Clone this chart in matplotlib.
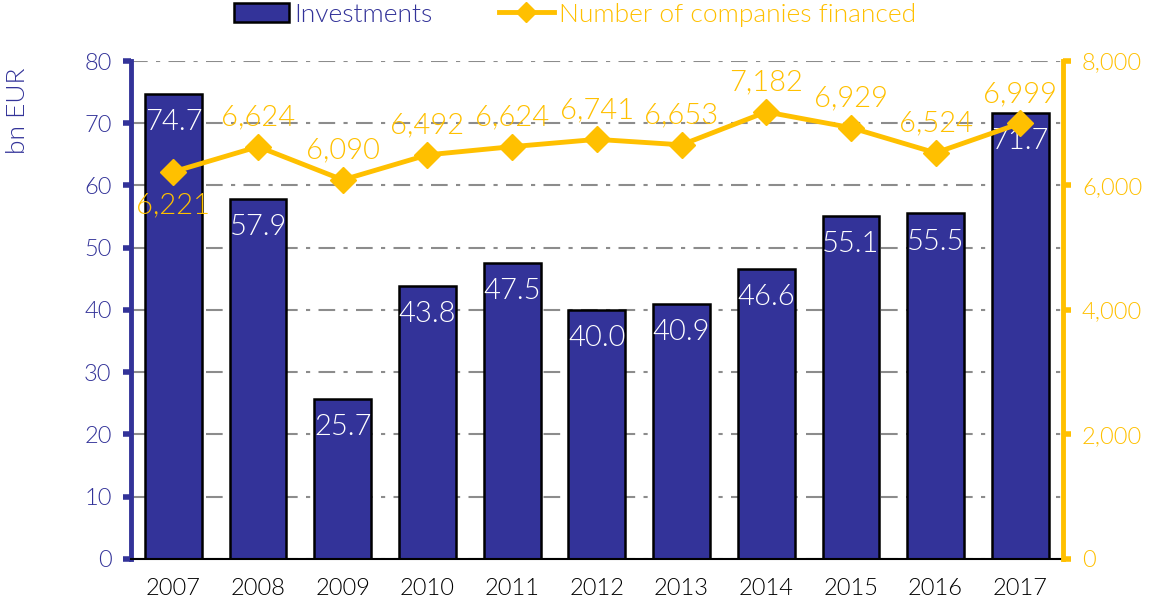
import numpy as np
import matplotlib
matplotlib.use("Agg")
import matplotlib.pyplot as plt
from matplotlib.lines import Line2D
from matplotlib.patches import Patch

plt.rcParams['font.family'] = ['Lato', 'DejaVu Sans']
plt.rcParams['font.weight'] = 300
plt.rcParams['axes.labelweight'] = 300

years = ['2007', '2008', '2009', '2010', '2011', '2012', '2013', '2014', '2015', '2016', '2017']
investments = [74.7, 57.9, 25.7, 43.8, 47.5, 40.0, 40.9, 46.6, 55.1, 55.5, 71.7]
companies = [6221, 6624, 6090, 6492, 6624, 6741, 6653, 7182, 6929, 6524, 6999]

blue = '#333399'
gold = '#FFC000'

fig = plt.figure(figsize=(11.5, 6.01), dpi=100)
ax = fig.add_axes([0.114, 0.07, 0.81, 0.8285])
ax2 = ax.twinx()

x = np.arange(len(years))

# gridlines drawn behind bars
ax.set_axisbelow(True)
ax.yaxis.grid(True, color='#8c8c8c', linestyle=(0, (8, 4, 2, 4)), linewidth=1.5)

bars = ax.bar(x, investments, width=0.67, color=blue, edgecolor='black', linewidth=1.8, zorder=2)
for xi, v in zip(x, investments):
    ax.text(xi, v - 4.5, f'{v:.1f}', ha='center', va='center', color='white', fontsize=21)

ax2.plot(x, companies, color=gold, linewidth=3.5, marker='D', markersize=13, zorder=3)
for i, (xi, c) in enumerate(zip(x, companies)):
    label = f'{c:,}'
    if i == 0:
        ax2.text(xi, c - 540, label, ha='center', va='center', color=gold, fontsize=21)
    else:
        ax2.text(xi, c + 470, label, ha='center', va='center', color=gold, fontsize=21)

ax.set_xlim(-0.5, len(years) - 0.5)
ax.set_ylim(0, 80)
ax2.set_ylim(0, 8000)
ax.set_yticks(np.arange(0, 81, 10))
ax2.set_yticks(np.arange(0, 8001, 2000))
ax2.set_yticklabels([f'{v:,}' for v in range(0, 8001, 2000)])

ax.set_xticks(x)
ax.set_xticklabels(years, fontsize=17, color='black')
ax.tick_params(axis='x', length=0, pad=14)
ax.tick_params(axis='y', colors=blue, labelsize=17, width=4, length=6, pad=8)
ax2.tick_params(axis='y', colors=gold, labelsize=17, width=4, length=6, pad=8)

for a in (ax, ax2):
    a.spines['top'].set_visible(False)
ax.spines['right'].set_visible(False)
ax.spines['left'].set_color(blue)
ax.spines['left'].set_linewidth(3.5)
ax.spines['bottom'].set_color('black')
ax.spines['bottom'].set_linewidth(1.5)
ax2.spines['left'].set_visible(False)
ax2.spines['bottom'].set_visible(False)
ax2.spines['right'].set_color(gold)
ax2.spines['right'].set_linewidth(3.5)

ax.set_ylabel('bn EUR', color=blue, fontsize=19, fontweight=300)
ax.yaxis.set_label_coords(-0.108, 0.9)

handles = [Patch(facecolor=blue, edgecolor='black', linewidth=1.8),
           Line2D([0], [0], color=gold, linewidth=3.5, marker='D', markersize=10)]
leg = fig.legend(handles, ['Investments', 'Number of companies financed'],
                 loc='upper center', bbox_to_anchor=(0.5, 1.035), ncol=2, frameon=False,
                 fontsize=19, handlelength=2.1, handletextpad=0.2, columnspacing=2.5)
leg.get_texts()[0].set_color(blue)
leg.get_texts()[1].set_color(gold)

fig.savefig('out.png', dpi=100)
